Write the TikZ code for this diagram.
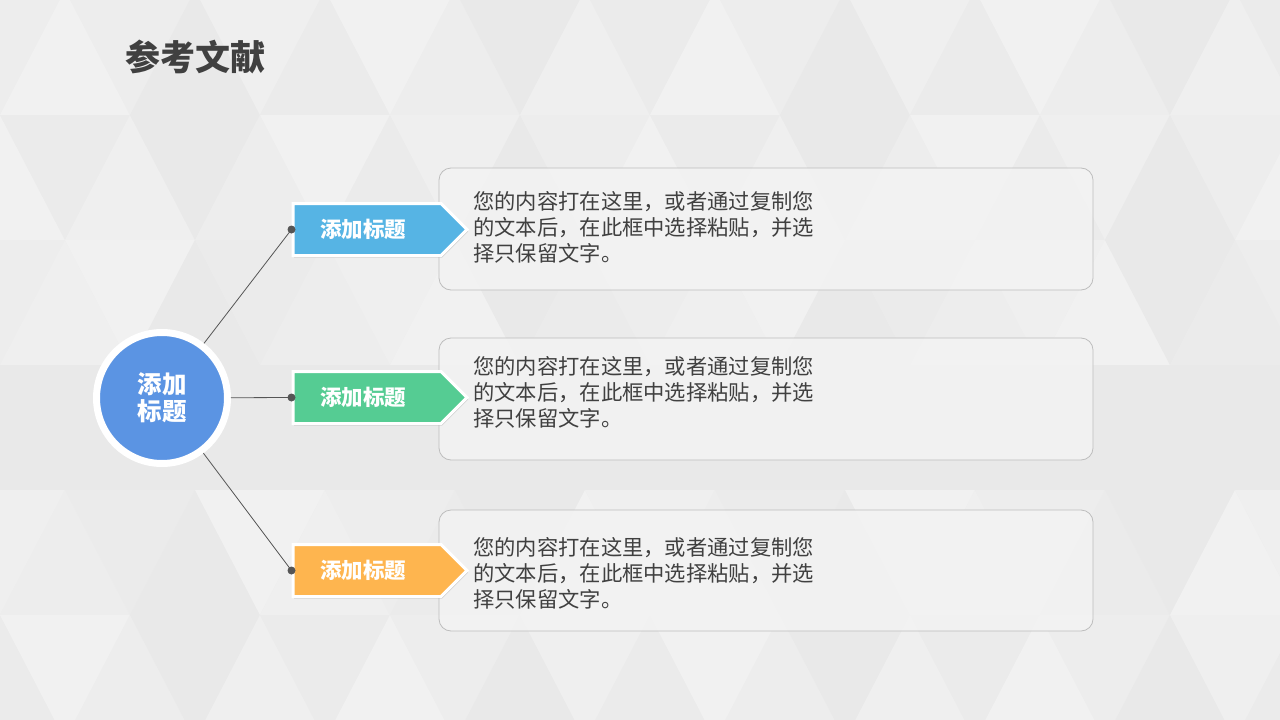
\documentclass[tikz,border=0pt]{standalone}
\usepackage{fontspec}
\setmainfont{Noto Sans CJK SC}
\usetikzlibrary{shadows,shapes.symbols}
\definecolor{bgc}{HTML}{EDEDED}
\definecolor{txt}{HTML}{404040}
\definecolor{cblue}{HTML}{5B94E3}
\definecolor{tblue}{HTML}{56B4E4}
\definecolor{tgreen}{HTML}{55CC93}
\definecolor{torange}{HTML}{FEB54F}
\definecolor{boxfill}{HTML}{F3F3F3}
\definecolor{boxline}{HTML}{BDBDBD}
\definecolor{conn}{HTML}{555555}
\tikzset{
  hub/.style={circle, fill=cblue, draw=white, line width=7pt, minimum size=131pt, inner sep=0pt,
    drop shadow={opacity=0.25, shadow xshift=1pt, shadow yshift=-2pt}},
  hubtext/.style={text=white, font=\fontsize{24.5}{27}\selectfont\bfseries, align=center, inner sep=0pt},
  tag/.style={signal, signal to=east, signal pointer angle=90, draw=white, line width=3pt,
    minimum width=174pt, minimum height=52pt, inner sep=0pt, anchor=west,
    drop shadow={opacity=0.3, shadow xshift=1pt, shadow yshift=-2pt}},
  taglabel/.style={text=white, font=\fontsize{21.5}{24}\selectfont\bfseries, inner sep=0pt},
  contentbox/.style={rectangle, rounded corners=12pt, fill=boxfill, fill opacity=0.85, draw=boxline, line width=0.8pt,
    minimum width=654pt, inner sep=0pt},
  bodytext/.style={text=txt, font=\fontsize{21.3}{26}\selectfont, align=left, inner sep=0pt, anchor=west},
  link/.style={draw=conn, line width=0.8pt},
  dot/.style={circle, fill=conn, minimum size=8pt, inner sep=0pt}
}
\begin{document}
\begin{tikzpicture}[x=1pt,y=-1pt]
\useasboundingbox (0,0) rectangle (1280,720);
\fill[bgc] (0,0) rectangle (1280,720);
\begin{scope}
\clip (0,0) rectangle (1280,720);
\foreach \r in {0,...,5}{
  \foreach \c in {-2,...,20}{
    \pgfmathtruncatemacro\parity{mod(\c+\r+20,2)}
    \pgfmathtruncatemacro\g{mod(abs(\c*37+\r*53+\c*\r*11),5)}
    \pgfmathsetmacro\shade{5.5+\g*0.8}
    \ifnum\parity=0
      \fill[black!\shade] (\c*65,\r*125+115) -- (\c*65+65,\r*125-10) -- (\c*65+130,\r*125+115) -- cycle;
    \else
      \fill[black!\shade] (\c*65,\r*125-10) -- (\c*65+65,\r*125+115) -- (\c*65+130,\r*125-10) -- cycle;
    \fi
  }
}
\end{scope}
% title
\node[text=txt, font=\fontsize{35}{40}\selectfont\bfseries, anchor=west, inner sep=0pt] (title) at (125,57) {参考文献};
% content boxes
\node[contentbox, minimum height=122pt] (b1) at (766,229) {};
\node[contentbox, minimum height=122pt] (b2) at (766,399) {};
\node[contentbox, minimum height=121pt] (b3) at (766,570.5) {};
\node[bodytext] (p1) at (473,227) {您的内容打在这里，或者通过复制您\\的文本后，在此框中选择粘贴，并选\\择只保留文字。};
\node[bodytext] (p2) at (473,392) {您的内容打在这里，或者通过复制您\\的文本后，在此框中选择粘贴，并选\\择只保留文字。};
\node[bodytext] (p3) at (473,573) {您的内容打在这里，或者通过复制您\\的文本后，在此框中选择粘贴，并选\\择只保留文字。};
% hub
\node[hub] (hub) at (162,398) {};
\node[hubtext] (hubl) at (162,398) {添加\\标题};
% tags
\node[tag, fill=tblue] (t1) at (291.5,229.5) {};
\node[tag, fill=tgreen] (t2) at (291.5,397.5) {};
\node[tag, fill=torange] (t3) at (291.5,570.5) {};
\node[taglabel] (l1) at (363,229.5) {添加标题};
\node[taglabel] (l2) at (363,397.5) {添加标题};
\node[taglabel] (l3) at (363,570.5) {添加标题};
% connectors
\draw[link] (hub) -- (t1.west);
\draw[link] (hub) -- (t2.west);
\draw[link] (hub) -- (t3.west);
\node[dot] (d1) at (t1.west) {};
\node[dot] (d2) at (t2.west) {};
\node[dot] (d3) at (t3.west) {};
\end{tikzpicture}
\end{document}
